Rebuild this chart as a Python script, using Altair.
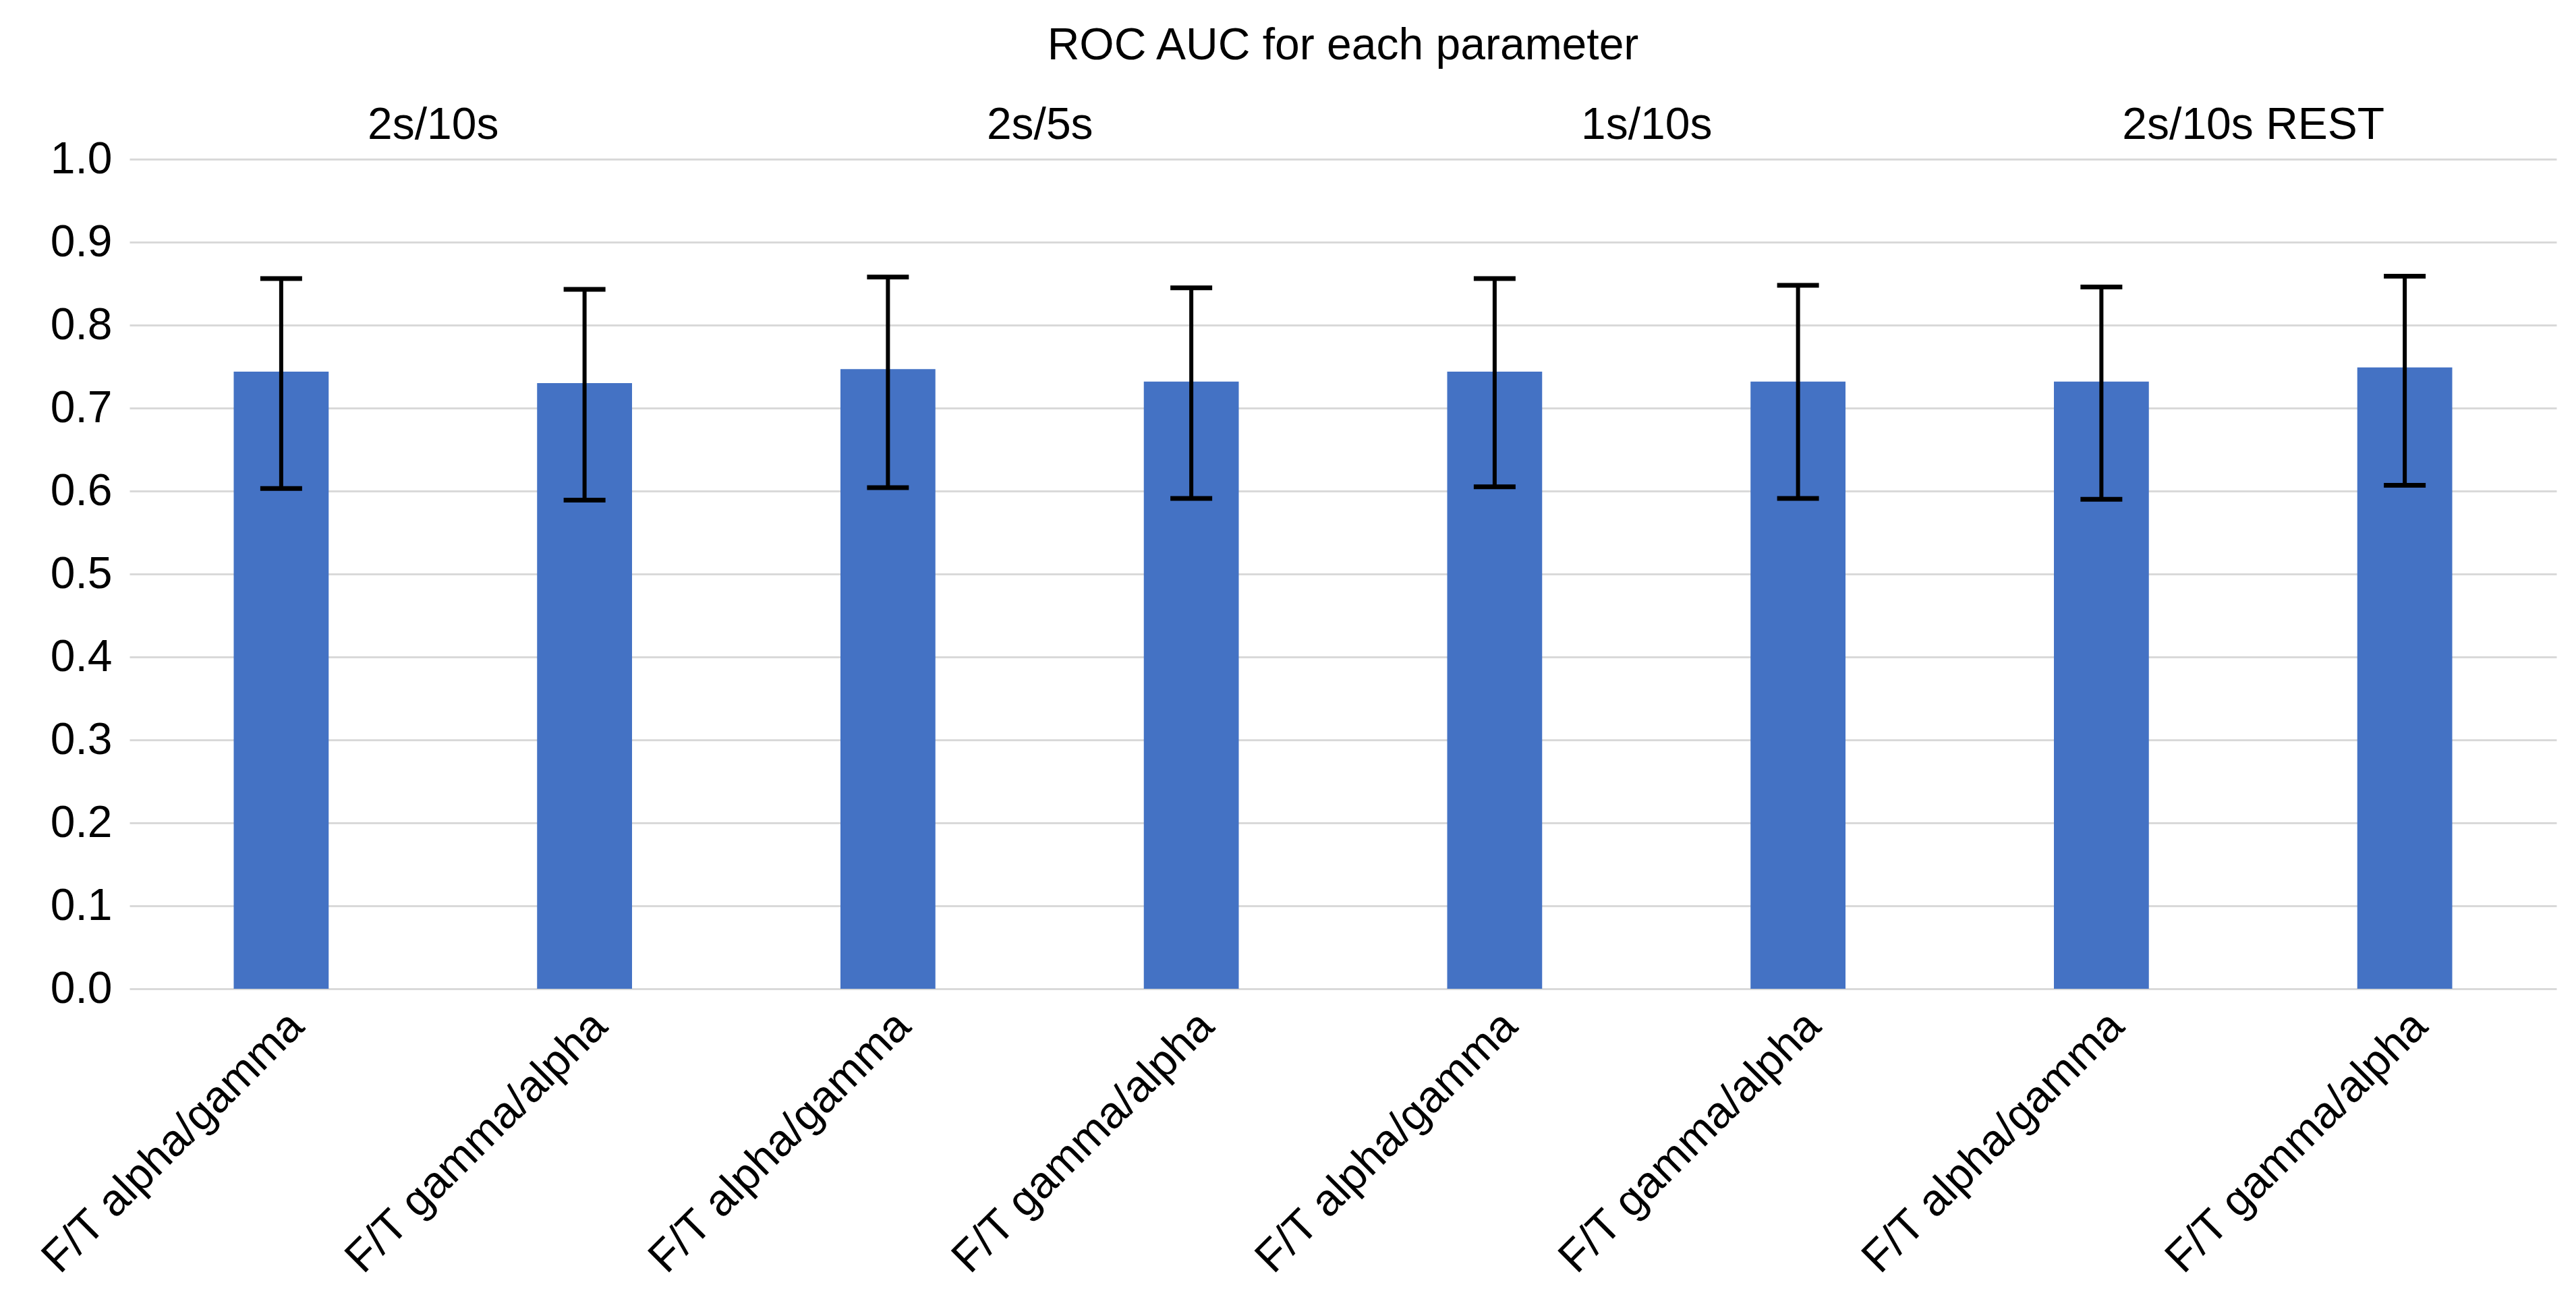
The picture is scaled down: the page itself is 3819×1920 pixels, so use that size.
import altair as alt
import pandas as pd

groups = ['2s/10s', '2s/10s', '2s/5s', '2s/5s', '1s/10s', '1s/10s', '2s/10s REST', '2s/10s REST']
params = ['F/T alpha/gamma', 'F/T gamma/alpha'] * 4
auc = [0.744, 0.730, 0.747, 0.732, 0.744, 0.732, 0.732, 0.749]
auc_lo = [0.603, 0.589, 0.604, 0.591, 0.605, 0.591, 0.590, 0.607]
auc_hi = [0.856, 0.843, 0.858, 0.845, 0.856, 0.848, 0.846, 0.859]
group_names = ['2s/10s', '2s/5s', '1s/10s', '2s/10s REST']

font = 'Liberation Sans'
fs = 66

df = pd.DataFrame({'group': groups, 'param': params, 'auc': auc, 'lo': auc_lo, 'hi': auc_hi})
df['slot'] = df['group'] + '|' + df['param']
slots = list(df['slot'])

x_enc = alt.X('slot:N', sort=slots, title=None,
              scale=alt.Scale(paddingInner=0.687, paddingOuter=0.3435),
              axis=alt.Axis(labelExpr="split(datum.label, '|')[1]",
                            labelAngle=-45, labelAlign='right', labelBaseline='top',
                            labelPadding=22, labelLimit=0, grid=False))

bars = alt.Chart(df).mark_bar(color='#4472C4').encode(
    x=x_enc,
    y=alt.Y('auc:Q', title=None,
            scale=alt.Scale(domain=[0, 1]),
            axis=alt.Axis(values=[i / 10 for i in range(11)], format='.1f',
                          labelPadding=26, gridColor='#d9d9d9', gridWidth=3))
)

rules = alt.Chart(df).mark_rule(color='black', strokeWidth=6).encode(
    x=alt.X('slot:N', sort=slots),
    y='lo:Q',
    y2='hi:Q'
)

caps = (alt.Chart(df)
        .transform_fold(['lo', 'hi'], as_=['end', 'val'])
        .mark_tick(color='black', thickness=7, size=62, opacity=1)
        .encode(x=alt.X('slot:N', sort=slots), y='val:Q'))

inner = alt.layer(bars, rules, caps)

heads = alt.Chart(pd.DataFrame({'group': group_names})).mark_point(opacity=0).encode(
    x=alt.X('group:N', sort=group_names, title=None,
            scale=alt.Scale(type='point', padding=0.5),
            axis=alt.Axis(orient='top', grid=False, labelPadding=17, labelAngle=0,
                          labelLimit=0, labelOverlap=False)),
    y=alt.value(0)
)

chart = (alt.layer(inner, heads)
         .resolve_scale(x='independent')
         .properties(width=3598, height=1230, background='white',
                     title=alt.TitleParams('ROC AUC for each parameter', fontSize=fs,
                                           font=font, fontWeight='normal', color='black',
                                           anchor='middle', offset=50),
                     autosize=alt.AutoSizeParams(type='none'),
                     padding={'left': 184, 'top': 228, 'right': 10, 'bottom': 440})
         .configure_axis(domain=False, ticks=False, labelFontSize=fs, labelFont=font,
                         labelColor='black')
         .configure_view(strokeOpacity=0))

chart.save('out.html', embed_options={'renderer': 'svg', 'actions': False})
